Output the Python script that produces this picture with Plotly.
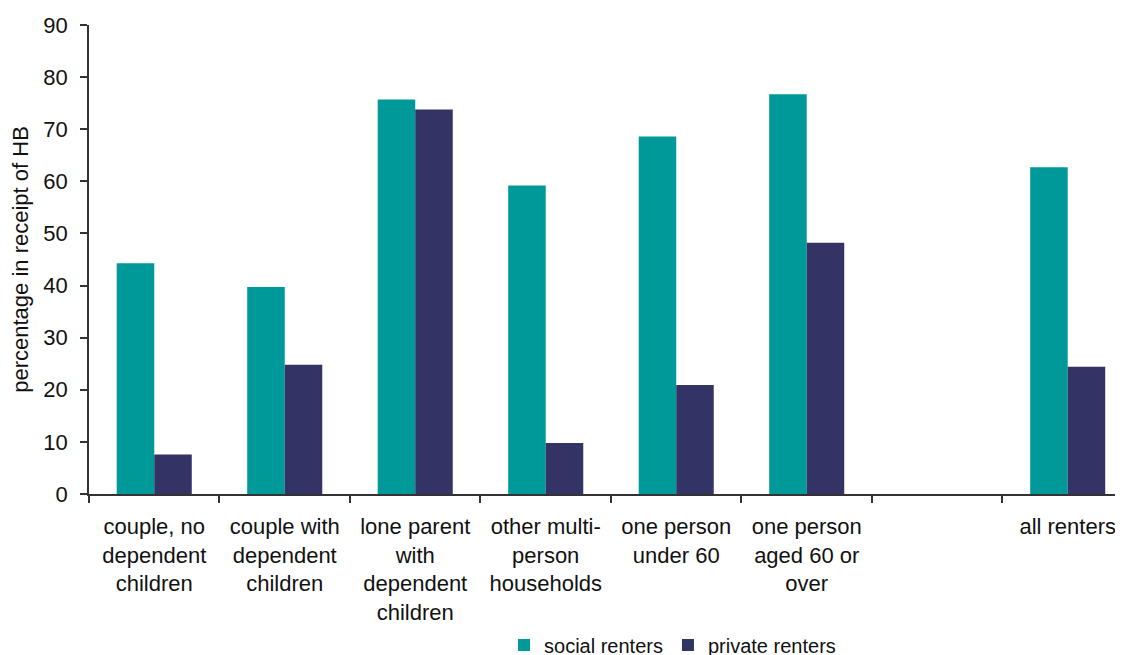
import plotly.graph_objects as go

categories = [
    "couple, no<br>dependent<br>children",
    "couple with<br>dependent<br>children",
    "lone parent<br>with<br>dependent<br>children",
    "other multi-<br>person<br>households",
    "one person<br>under 60",
    "one person<br>aged 60 or<br>over",
    " ",
    "all renters",
]
social_renters = [44.3, 39.7, 75.7, 59.2, 68.6, 76.7, None, 62.7]
private_renters = [7.6, 24.8, 73.8, 9.8, 20.9, 48.2, None, 24.4]

FONT = "Liberation Sans, Arial, sans-serif"

fig = go.Figure()
fig.add_trace(go.Bar(name="social renters", x=categories, y=social_renters,
                     marker=dict(color="#009999", line=dict(width=0))))
fig.add_trace(go.Bar(name="private renters", x=categories, y=private_renters,
                     marker=dict(color="#333366", line=dict(width=0))))

fig.update_layout(
    width=1123, height=655,
    margin=dict(l=81, r=0, t=17, b=169, autoexpand=False),
    paper_bgcolor="white", plot_bgcolor="white",
    barmode="group", bargap=0.425, bargroupgap=0,
    font=dict(family=FONT, size=20, color="#111111"),
    legend=dict(orientation="h", x=0.56, xanchor="center", y=-0.322, yanchor="middle",
                font=dict(size=20), itemwidth=30, tracegroupgap=0, bgcolor="rgba(0,0,0,0)"),
    showlegend=True,
)
fig.update_xaxes(
    type="category", range=[-0.5, 7.485], automargin=False,
    showline=True, linecolor="#333333", linewidth=1.5,
    ticks="outside", ticklen=7, tickcolor="#333333", tickwidth=1.5,
    tickson="boundaries", showgrid=False, tickangle=0,
    tickfont=dict(size=22), ticklabelstandoff=12,
)
fig.update_yaxes(
    range=[0, 90], dtick=10, automargin=False,
    showline=True, linecolor="#333333", linewidth=1.5,
    ticks="outside", ticklen=7, tickcolor="#333333", tickwidth=1.5,
    showgrid=False, zeroline=False,
    tickfont=dict(size=22), ticklabelstandoff=8,
    title=dict(text="percentage in receipt of HB", font=dict(size=22), standoff=19),
)

fig.write_html("out.html")
